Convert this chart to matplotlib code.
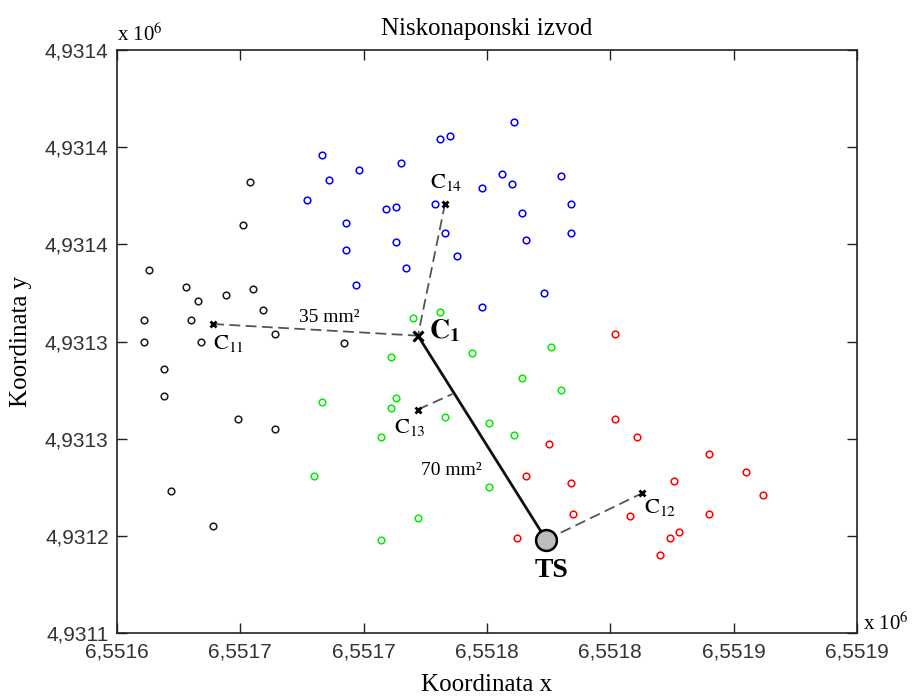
import matplotlib.pyplot as plt

plt.rcParams['mathtext.fontset'] = 'stix'
plt.rcParams['font.family'] = ['Liberation Serif', 'DejaVu Serif']

# axis ticks (labels as printed by the original tool, with decimal comma)
x_ticks = [6551600, 6551650, 6551700, 6551750, 6551800, 6551850, 6551900]
x_tick_labels = ['6,5516', '6,5517', '6,5517', '6,5518', '6,5518', '6,5519', '6,5519']
y_ticks = [4931100, 4931150, 4931200, 4931250, 4931300, 4931350, 4931400]
y_tick_labels = ['4,9311', '4,9312', '4,9313', '4,9313', '4,9314', '4,9314', '4,9314']

# consumers, grouped by feeder
black_x = [6551654, 6551651, 6551613, 6551628, 6551633, 6551644, 6551655, 6551659,
           6551611, 6551630, 6551664, 6551611, 6551634, 6551692, 6551619, 6551619,
           6551649, 6551664, 6551622, 6551639]
black_y = [4931332, 4931310, 4931287, 4931278, 4931271, 4931274, 4931277, 4931266,
           4931261, 4931261, 4931254, 4931250, 4931250, 4931249, 4931236, 4931222,
           4931210, 4931205, 4931173, 4931155]

blue_x = [6551683, 6551686, 6551677, 6551693, 6551693, 6551697, 6551698, 6551761,
          6551735, 6551731, 6551715, 6551756, 6551760, 6551780, 6551748, 6551729,
          6551709, 6551713, 6551784, 6551764, 6551733, 6551784, 6551713, 6551766,
          6551738, 6551717, 6551773, 6551748]
blue_y = [4931346, 4931333, 4931323, 4931311, 4931297, 4931279, 4931338, 4931363,
          4931356, 4931354, 4931342, 4931336, 4931331, 4931335, 4931329, 4931321,
          4931318, 4931319, 4931321, 4931316, 4931306, 4931306, 4931301, 4931302,
          4931294, 4931288, 4931275, 4931268]

green_x = [6551720, 6551731, 6551711, 6551744, 6551776, 6551764, 6551780, 6551713,
           6551711, 6551733, 6551707, 6551751, 6551761, 6551751, 6551722, 6551707,
           6551683, 6551680]
green_y = [4931262, 4931265, 4931242, 4931244, 4931247, 4931231, 4931225, 4931221,
           4931216, 4931211, 4931201, 4931208, 4931202, 4931175, 4931159, 4931148,
           4931219, 4931181]

red_x = [6551802, 6551775, 6551766, 6551784, 6551785, 6551762, 6551802, 6551811,
         6551840, 6551855, 6551826, 6551862, 6551808, 6551840, 6551828, 6551824,
         6551820]
red_y = [4931254, 4931197, 4931181, 4931177, 4931161, 4931149, 4931210, 4931201,
         4931192, 4931183, 4931178, 4931171, 4931160, 4931161, 4931152, 4931149,
         4931140]

# cluster centres, main node and transformer station
c11 = (6551639, 4931259)
c12 = (6551813, 4931172)
c13 = (6551722, 4931215)
c14 = (6551733, 4931321)
c1 = (6551722, 4931253)
ts = (6551774, 4931148)
c13_join = (6551736, 4931223)

fig = plt.figure(figsize=(9.17, 6.98), dpi=100)
ax = fig.add_axes([117 / 917, 65 / 698, 740 / 917, 583 / 698])

mk = dict(marker='o', linestyle='none', markersize=4.8, markerfacecolor='none', markeredgewidth=1.1)
ax.plot(black_x, black_y, color='#1a1a1a', **mk)
ax.plot(blue_x, blue_y, color='#0000ff', **mk)
ax.plot(green_x, green_y, color='#00ee00', **mk)
ax.plot(red_x, red_y, color='#ff0000', **mk)

dash = dict(color='#555555', linewidth=1.3, linestyle=(0, (6, 3)))
ax.plot([c11[0], c1[0]], [c11[1], c1[1]], **dash)
ax.plot([c14[0], c1[0]], [c14[1], c1[1]], **dash)
ax.plot([c13[0], c13_join[0]], [c13[1], c13_join[1]], **dash)
ax.plot([ts[0], c12[0]], [ts[1], c12[1]], **dash)
ax.plot([c1[0], ts[0]], [c1[1], ts[1]], color='#111111', linewidth=2.0)

for p in (c11, c12, c13, c14):
    ax.plot(p[0], p[1], marker='x', color='black', markersize=4.5, markeredgewidth=2.0)
ax.plot(c1[0], c1[1], marker='x', color='black', markersize=7, markeredgewidth=2.2)
ax.plot(ts[0], ts[1], marker='o', markersize=15, markerfacecolor='#bdbdbd',
        markeredgecolor='black', markeredgewidth=1.8)

lbl = dict(textcoords='offset points', va='baseline', ha='left')
ax.annotate(r'$\mathrm{C}_{11}$', xy=c11, xytext=(0, -18), fontsize=16, **lbl)
ax.annotate(r'$\mathrm{C}_{12}$', xy=c12, xytext=(1.5, -14.5), fontsize=16, **lbl)
ax.annotate(r'$\mathrm{C}_{13}$', xy=c13, xytext=(-17, -17), fontsize=16, **lbl)
ax.annotate(r'$\mathrm{C}_{14}$', xy=c14, xytext=(-10.5, 11.5), fontsize=16, **lbl)
ax.annotate(r'$\mathbf{C}_{\mathbf{1}}$', xy=c1, xytext=(8, -2), fontsize=20, **lbl)
ax.annotate('TS', xy=ts, xytext=(4, -27), fontsize=20, fontweight='bold',
            textcoords='offset points', va='baseline', ha='center')

mid35 = ((c11[0] + c1[0]) / 2, (c11[1] + c1[1]) / 2)
mid70 = ((c1[0] + ts[0]) / 2, (c1[1] + ts[1]) / 2)
ax.annotate('35 mm²', xy=mid35, xytext=(-12, 6), fontsize=14, **lbl)
ax.annotate('70 mm²', xy=mid70, xytext=(-44, -27), fontsize=14, **lbl)

ax.set_xlim(x_ticks[0], x_ticks[-1])
ax.set_ylim(y_ticks[0], y_ticks[-1])
ax.set_xticks(x_ticks)
ax.set_xticklabels(x_tick_labels, fontfamily='Liberation Sans', fontsize=15, color='#333333')
ax.set_yticks(y_ticks)
ax.set_yticklabels(y_tick_labels, fontfamily='Liberation Sans', fontsize=15, color='#333333')
ax.tick_params(direction='in', length=7, width=1, top=True, right=True, color='#222222')
ax.tick_params(axis='x', pad=7)
ax.tick_params(axis='y', pad=6)
for s in ax.spines.values():
    s.set_linewidth(1.2)
    s.set_color('#222222')

ax.annotate(r'x 10$^{6}$', xy=(0, 1), xycoords='axes fraction', xytext=(0, 3),
            textcoords='offset points', ha='left', va='bottom', fontsize=15)
ax.annotate(r'x 10$^{6}$', xy=(1, 0), xycoords='axes fraction', xytext=(4, -1.5),
            textcoords='offset points', ha='left', va='bottom', fontsize=15)

ax.set_title('Niskonaponski izvod', fontsize=18, pad=11)
ax.set_xlabel('Koordinata x', fontsize=18, labelpad=9)
ax.set_ylabel('Koordinata y', fontsize=18, labelpad=9)

fig.savefig('out.png', dpi=100)
plt.close(fig)
